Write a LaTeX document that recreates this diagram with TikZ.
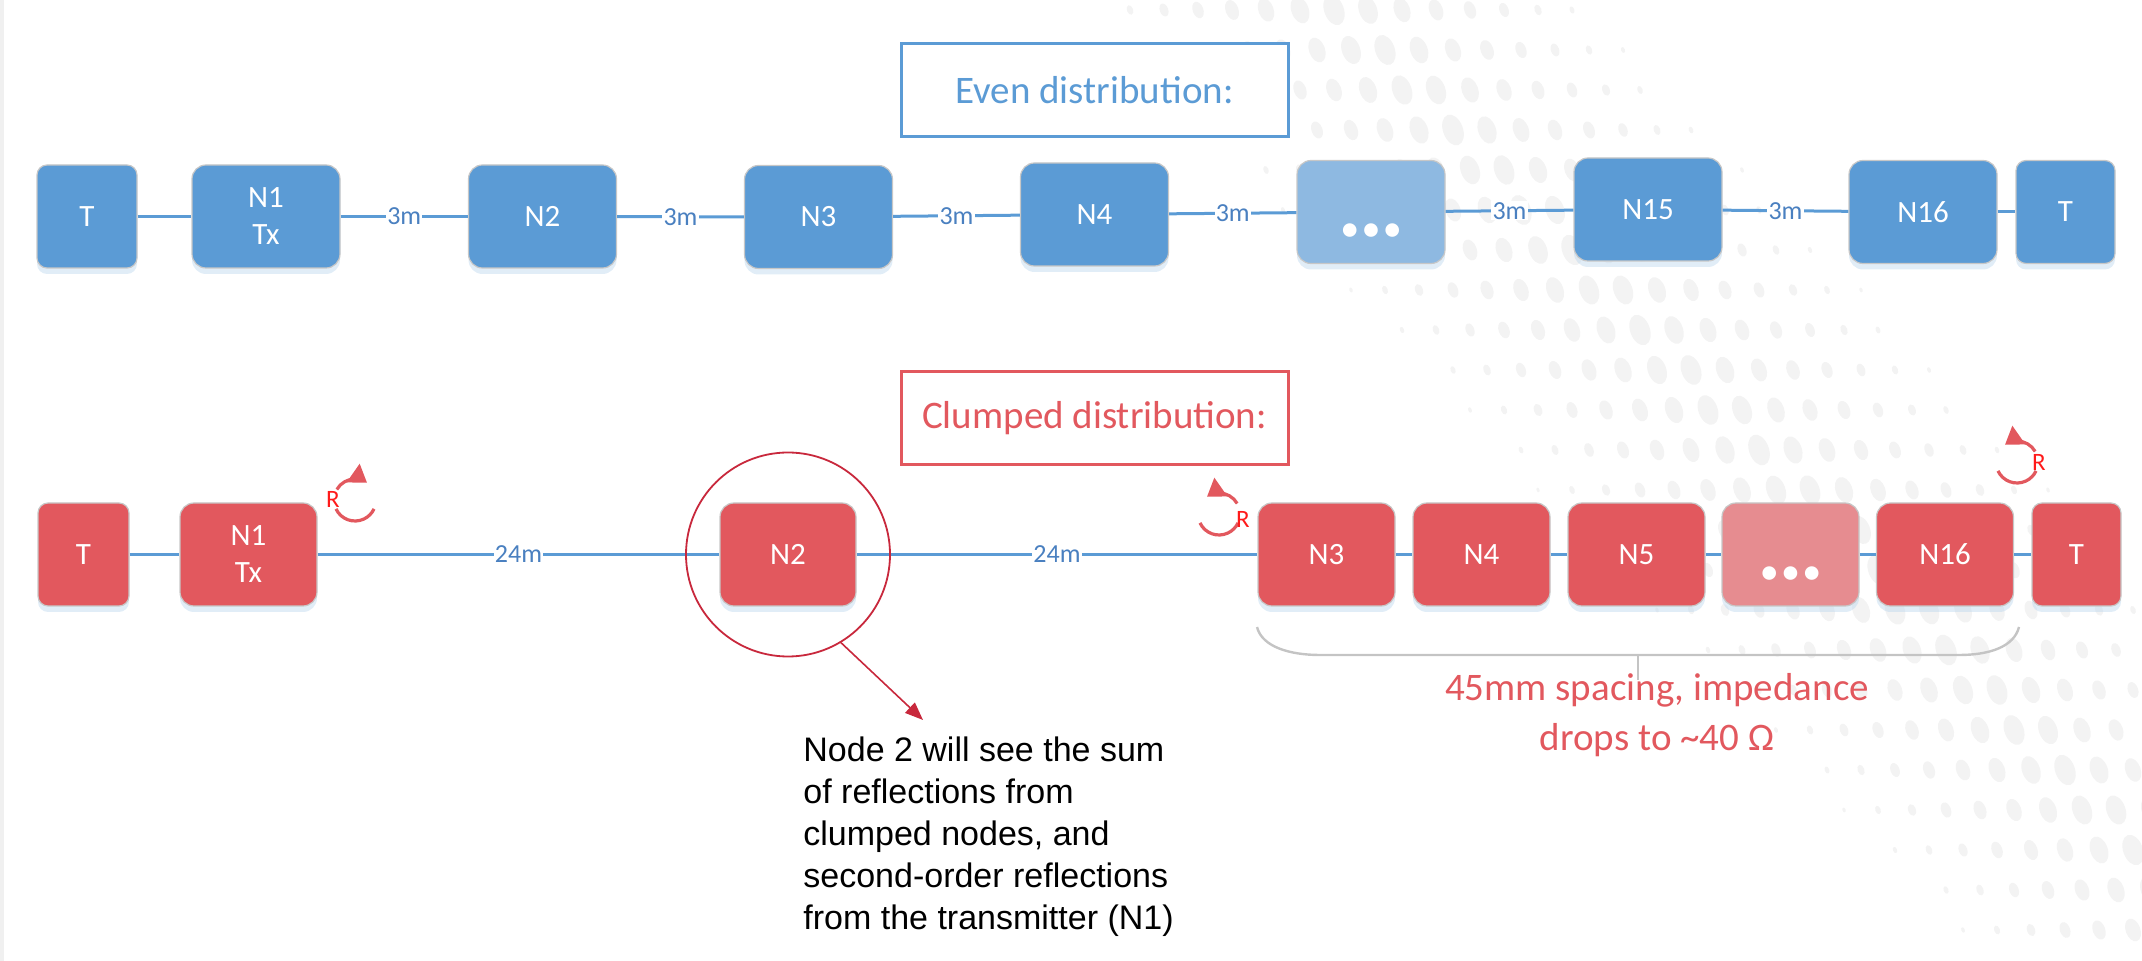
\documentclass[tikz,border=0pt]{standalone}
\usepackage{fontspec}
\setmainfont{Carlito}
\newfontfamily\calloutfont{Liberation Sans}
\usetikzlibrary{shadows,arrows.meta}

\definecolor{boxblue}{HTML}{5B9BD5}
\definecolor{boxbluelight}{HTML}{8EB9E1}
\definecolor{boxred}{HTML}{E2585E}
\definecolor{boxredlight}{HTML}{E68C90}
\definecolor{labelblue}{HTML}{4A80C0}
\definecolor{ringred}{HTML}{C8283C}
\definecolor{rred}{HTML}{FF1A1A}
\definecolor{bracegray}{HTML}{C4C4C4}
\definecolor{halftone}{HTML}{F3F3F3}

\tikzset{
  unit/.style={rounded corners=7pt, draw=black!22, line width=0.6pt,
    text=white, font=\fontsize{15.5}{18.5}\selectfont, align=center,
    minimum height=51.5pt, inner sep=0pt,
    drop shadow={shadow xshift=0pt, shadow yshift=-3pt, fill=boxblue!40, opacity=0.45}},
  blueunit/.style={unit, fill=boxblue, minimum width=74pt},
  redunit/.style={unit, fill=boxred, minimum width=68.5pt},
  endunit/.style={rounded corners=5pt},
  dotsmark/.style={text=white, font=\fontsize{16}{16}\selectfont\bfseries, inner sep=0pt},
  wire/.style={draw=boxblue, line width=1.5pt},
  dist/.style={fill=white, inner sep=0.6pt, text=labelblue, font=\fontsize{13}{13}\selectfont},
  titlebox/.style={fill=white, line width=1.5pt, minimum width=193.5pt, minimum height=46.5pt,
    font=\fontsize{19.5}{22}\selectfont, inner sep=0pt},
  rarc/.style={draw=boxred, line width=1.6pt},
  rhead/.style={-{Triangle[length=8.5pt,width=11pt]}},
  rmark/.style={text=rred, font=\fontsize{12.5}{13}\selectfont, inner sep=0pt},
}

\begin{document}
\begin{tikzpicture}[x=0.5pt, y=-0.5pt]
\useasboundingbox (0,0) rectangle (2142,961);
\fill[black!6] (0,0) rectangle (4,961);

% faint halftone swoosh in the background
\begin{scope}
\clip (1120,0) rectangle (2142,961);
\foreach \i in {0,...,30}{
  \foreach \j in {0,...,24}{
    \pgfmathsetmacro{\px}{1130+\i*34+mod(\j,2)*17}
    \pgfmathsetmacro{\py}{\j*40+10}
    \pgfmathsetmacro{\s}{1-abs(\px-1330-0.95*\py)*0.725/220}
    \ifdim\s pt>0.15pt
      \fill[halftone, rotate around={110:(\px,\py)}] (\px,\py) ellipse[x radius=8pt*\s, y radius=5pt*\s];
    \fi
  }
}
\end{scope}

% ---------- even distribution ----------
\node[titlebox, draw=boxblue, text=boxblue] (eventitle) at (1094.5,90.5) {Even distribution:};

\node[blueunit, endunit, minimum width=50pt] (t1) at (87,216.5) {T};
\node[blueunit] (n1) at (266,216.5) {N1\\Tx};
\node[blueunit] (n2) at (542.5,216.5) {N2};
\node[blueunit] (n3) at (818.5,217) {N3};
\node[blueunit] (n4) at (1094.5,214.5) {N4};
\node[blueunit, fill=boxbluelight] (ndots) at (1371,212) {};
\node[dotsmark] (ndotsmark) at ([yshift=-10pt]ndots.center) {•\,•\,•};
\node[blueunit] (n15) at (1648,209.5) {N15};
\node[blueunit] (n16) at (1923,212) {N16};
\node[blueunit, endunit, minimum width=49.5pt] (t2) at (2065.5,212) {T};

\draw[wire] (t1) -- (n1);
\draw[wire] (n1) -- node[dist] (d1) {3m} (n2);
\draw[wire] (n2) -- node[dist] (d2) {3m} (n3);
\draw[wire] (n3) -- node[dist] (d3) {3m} (n4);
\draw[wire] (n4) -- node[dist] (d4) {3m} (ndots);
\draw[wire] (ndots) -- node[dist] (d5) {3m} (n15);
\draw[wire] (n15) -- node[dist] (d6) {3m} (n16);
\draw[wire] (n16) -- (t2);

% ---------- clumped distribution ----------
\node[titlebox, draw=boxred, text=boxred] (clumptitle) at (1094.5,418) {Clumped distribution:};

\node[redunit, endunit, minimum width=45.5pt] (bt1) at (83.5,554.5) {T};
\node[redunit] (bn1) at (248.5,554.5) {N1\\Tx};
\node[redunit, minimum width=68pt] (bn2) at (788,554.5) {N2};
\node[redunit] (bn3) at (1326.5,554.5) {N3};
\node[redunit] (bn4) at (1481.5,554.5) {N4};
\node[redunit] (bn5) at (1636.5,554.5) {N5};
\node[redunit, fill=boxredlight] (bndots) at (1790.5,554.5) {};
\node[dotsmark] (bndotsmark) at ([yshift=-10pt]bndots.center) {•\,•\,•};
\node[redunit] (bn16) at (1945,554.5) {N16};
\node[redunit, endunit, minimum width=44.5pt] (bt2) at (2076.5,554.5) {T};

\draw[wire] (bt1) -- (bn1);
\draw[wire] (bn1) -- node[dist] (e1) {24m} (bn2);
\draw[wire] (bn2) -- node[dist] (e2) {24m} (bn3);
\draw[wire] (bn3) -- (bn4);
\draw[wire] (bn4) -- (bn5);
\draw[wire] (bn5) -- (bndots);
\draw[wire] (bndots) -- (bn16);
\draw[wire] (bn16) -- (bt2);

% reflection markers
\coordinate (rc1) at (355,500);
\coordinate (rc2) at (1219,514);
\coordinate (rc3) at (2017,462);
\draw[rarc, rhead] ([shift={(150:10.5pt)}]rc1) arc[start angle=150, end angle=55, radius=10.5pt];
\draw[rarc] ([shift={(205:10.5pt)}]rc1) arc[start angle=205, end angle=335, radius=10.5pt];
\node[rmark] (r1) at (333,499) {R};
\draw[rarc, rhead] ([shift={(30:10.5pt)}]rc2) arc[start angle=30, end angle=125, radius=10.5pt];
\draw[rarc] ([shift={(205:10.5pt)}]rc2) arc[start angle=205, end angle=335, radius=10.5pt];
\node[rmark] (r2) at (1243,519) {R};
\draw[rarc, rhead] ([shift={(30:10.5pt)}]rc3) arc[start angle=30, end angle=125, radius=10.5pt];
\draw[rarc] ([shift={(205:10.5pt)}]rc3) arc[start angle=205, end angle=335, radius=10.5pt];
\node[rmark] (r3) at (2039,462) {R};

% ring around node 2 and its callout
\node[draw=ringred, line width=0.9pt, circle, minimum size=102pt, inner sep=0pt] (ring) at (bn2) {};
\coordinate (calltip) at (923,720);
\draw[ringred, line width=0.8pt, -{Triangle[length=9pt,width=7pt]}] (ring.-59) -- (calltip);
\node[anchor=north west, align=left, inner sep=0pt,
      font=\calloutfont\fontsize{17}{21}\selectfont] (callout) at (803,736)
  {Node 2 will see the sum\\of reflections from\\clumped nodes, and\\second-order reflections\\from the transmitter (N1)};

% bracket under the clumped group
\coordinate (brl) at (1257,627);
\coordinate (brr) at (2019,627);
\coordinate (brm) at (1638,655);
\coordinate (brtick) at (1638,680);
\draw[bracegray, line width=1.2pt] (brl) .. controls (1262,647) and (1290,655) .. (1320,655)
  -- (1959,655) .. controls (1989,655) and (2014,647) .. (brr);
\draw[bracegray, line width=0.9pt] (brm) -- (brtick);
\node[text=boxred, align=center, inner sep=0pt,
      font=\fontsize{19.5}{25}\selectfont] (spacing) at (1657,715)
  {45mm spacing, impedance\\drops to \textasciitilde 40 Ω};
\end{tikzpicture}
\end{document}
